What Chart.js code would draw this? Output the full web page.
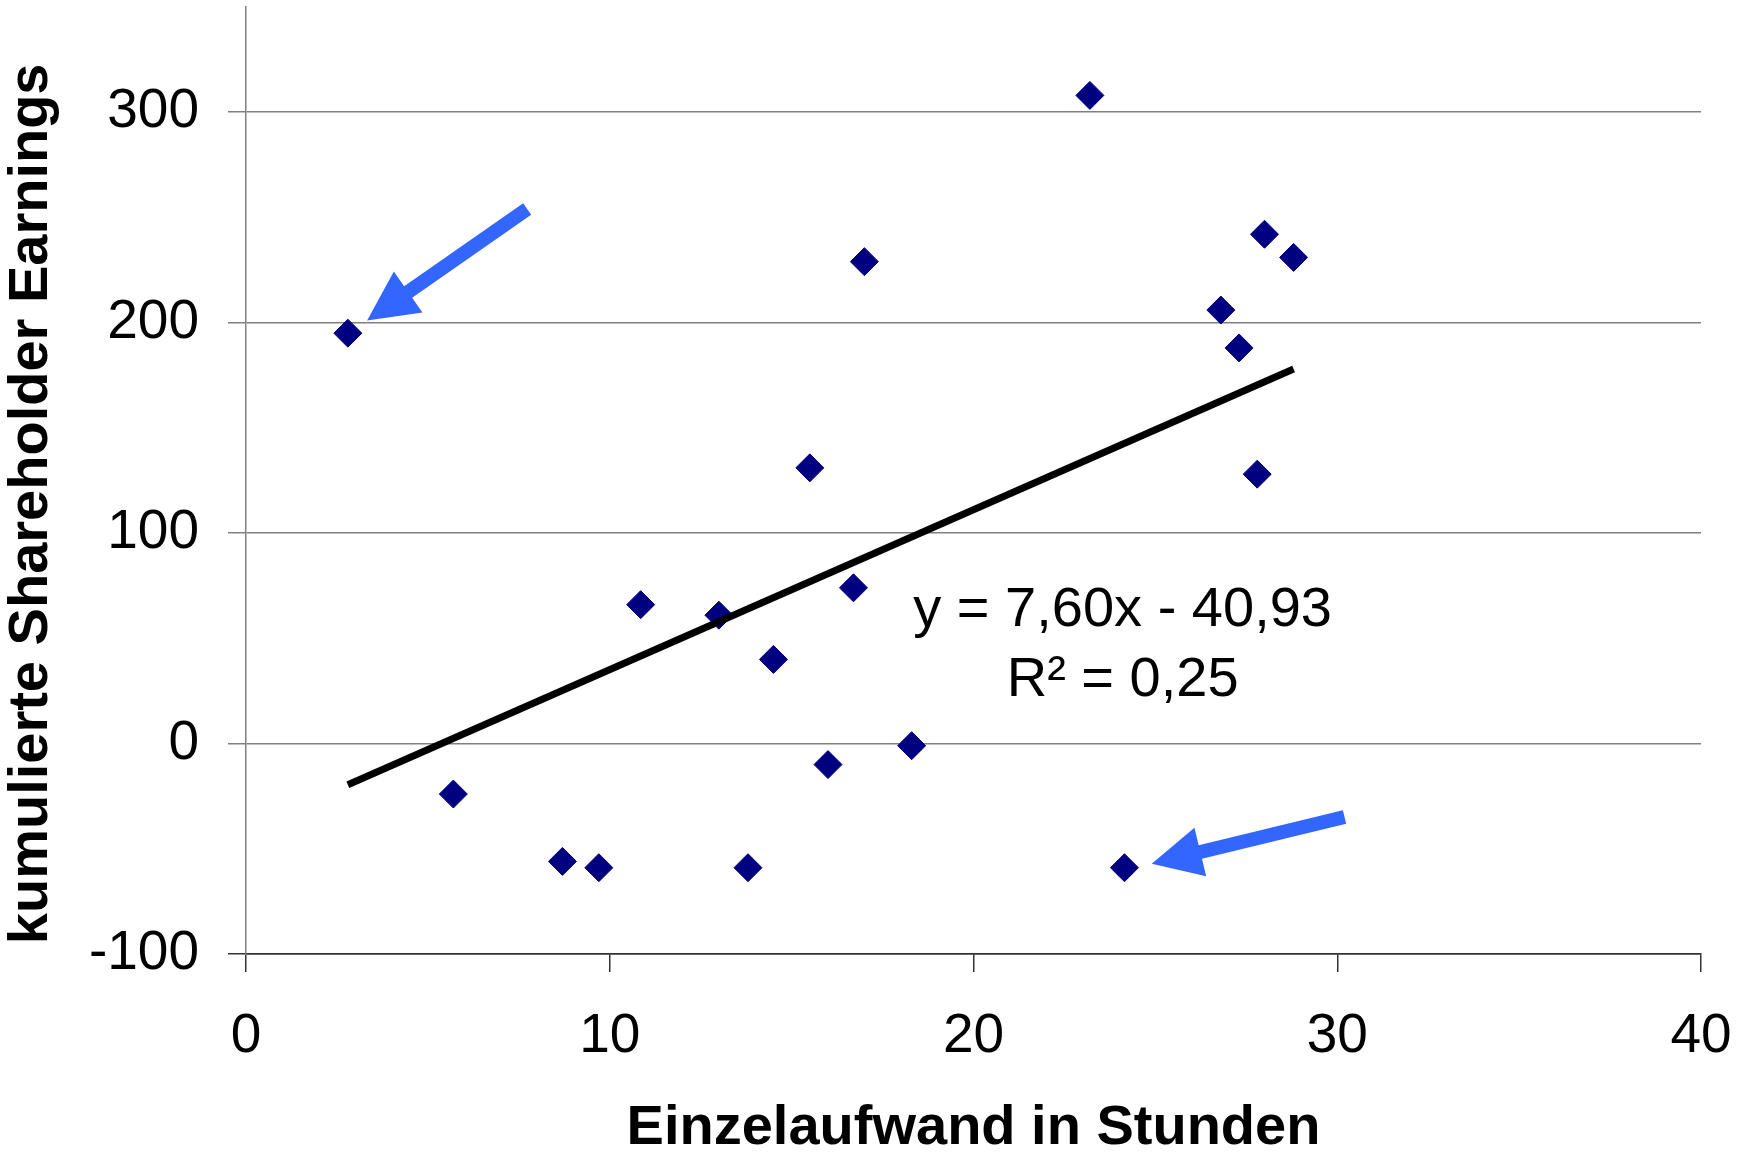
<!DOCTYPE html>
<html lang="de">
<head>
<meta charset="utf-8">
<title>Einzelaufwand vs. Shareholder Earnings</title>
<script src="https://cdn.jsdelivr.net/npm/chart.js@4.4.1/dist/chart.umd.min.js"></script>
<style>
  html, body { margin: 0; padding: 0; background: #fff; }
  #wrap { width: 1748px; height: 1154px; position: relative; }
</style>
</head>
<body>
<div id="wrap"><canvas id="scatterChart"></canvas></div>
<script>
// --- Daten ---
const hoursX    = [2.8, 5.7, 8.7, 9.7, 10.85, 13.0, 13.8, 14.5, 15.5, 16.0, 16.7, 17.0, 18.3, 23.2, 24.15, 26.8, 27.3, 27.8, 28.0, 28.8];
const earningsY = [195, -24, -56, -59, 66, 61, -59, 40, 131, -10, 74, 229, -1, 308, -59, 206, 188, 128, 242, 231];

const trendX = [2.8, 28.8];
const trendY = [-19.6, 178.0];

const xTicks = [0, 10, 20, 30, 40];
const yTicks = [-100, 0, 100, 200, 300];

const equationLines = ['y = 7,60x - 40,93', 'R² = 0,25'];
const equationPos = { x: 24.1, y: [63, 30] };

// Pfeile: [Ende x, Ende y, Spitze x, Spitze y] in Datenkoordinaten
const arrows = [
  [7.73, 254, 3.33, 201],
  [30.2, -34.9, 24.9, -57.1]
];

const FONT = '"Liberation Sans", Arial, Helvetica, sans-serif';
const ARROW_COLOR = '#3366ff';

document.addEventListener('DOMContentLoaded', () => {
  const canvas = document.getElementById('scatterChart');

  const points = hoursX.map((x, i) => ({ x, y: earningsY[i] }));
  const trend = trendX.map((x, i) => ({ x, y: trendY[i] }));

  // --- Pfeile und Gleichung ---
  const annotations = {
    id: 'annotations',
    afterDatasetsDraw(chart) {
      const { ctx, scales: { x, y } } = chart;

      arrows.forEach(a => {
        const x0 = x.getPixelForValue(a[0]), y0 = y.getPixelForValue(a[1]);
        const x1 = x.getPixelForValue(a[2]), y1 = y.getPixelForValue(a[3]);
        const ang = Math.atan2(y1 - y0, x1 - x0);
        const len = Math.hypot(x1 - x0, y1 - y0);
        const shaft = 7, headLen = 50, headW = 25;
        ctx.save();
        ctx.translate(x0, y0);
        ctx.rotate(ang);
        ctx.beginPath();
        ctx.moveTo(0, -shaft);
        ctx.lineTo(len - headLen, -shaft);
        ctx.lineTo(len - headLen, -headW);
        ctx.lineTo(len, 0);
        ctx.lineTo(len - headLen, headW);
        ctx.lineTo(len - headLen, shaft);
        ctx.lineTo(0, shaft);
        ctx.closePath();
        ctx.fillStyle = ARROW_COLOR;
        ctx.fill();
        ctx.restore();
      });

      ctx.save();
      ctx.fillStyle = '#000';
      ctx.font = `56px ${FONT}`;
      ctx.textAlign = 'center';
      ctx.textBaseline = 'middle';
      const cx = x.getPixelForValue(equationPos.x);
      equationLines.forEach((t, i) => {
        ctx.fillText(t, cx, y.getPixelForValue(equationPos.y[i]));
      });
      ctx.restore();
    }
  };

  new Chart(canvas, {
    type: 'scatter',
    data: {
      datasets: [
        {
          label: 'Trend',
          type: 'line',
          data: trend,
          borderColor: '#000',
          borderWidth: 7,
          pointRadius: 0,
          fill: false,
          order: 0
        },
        {
          label: 'Unternehmen',
          data: points,
          pointStyle: 'rectRot',
          pointRadius: 14,
          pointHoverRadius: 14,
          backgroundColor: '#000080',
          borderColor: '#000080',
          borderWidth: 1,
          order: 1
        }
      ]
    },
    options: {
      responsive: true,
      maintainAspectRatio: false,
      animation: false,
      // autoPadding würde oben Platz für die Punktgröße reservieren
      layout: { autoPadding: false, padding: { top: 7, right: 47, bottom: 0, left: 0 } },
      plugins: { legend: { display: false }, tooltip: { enabled: false } },
      scales: {
        x: {
          type: 'linear',
          min: 0, max: 40,
          afterFit: s => { s.height = 200; s.paddingLeft = 0; s.paddingRight = 0; },
          afterBuildTicks: s => { s.ticks = xTicks.map(v => ({ value: v })); },
          grid: { drawOnChartArea: false, drawTicks: true, tickLength: 18, color: '#333', lineWidth: 1.5 },
          border: { color: '#333', width: 1.5 },
          ticks: { color: '#000', padding: 32, font: { family: FONT, size: 55 }, callback: v => String(v) },
          title: {
            display: true,
            text: 'Einzelaufwand in Stunden',
            color: '#000',
            padding: { top: 0, bottom: 0 },
            font: { family: FONT, size: 56, weight: 'bold', lineHeight: 0.9 }
          }
        },
        y: {
          type: 'linear',
          min: -100, max: 350,
          afterFit: s => { s.width = 246; s.paddingTop = 0; s.paddingBottom = 0; },
          afterBuildTicks: s => { s.ticks = yTicks.map(v => ({ value: v })); },
          grid: {
            drawTicks: true, tickLength: 18, lineWidth: 1.5,
            color: c => (c.tick && c.tick.value === -100) ? '#333' : '#808080'
          },
          border: { color: '#808080', width: 1.5 },
          ticks: { color: '#000', padding: 29, font: { family: FONT, size: 55 }, callback: v => String(v) },
          title: {
            display: true,
            text: 'kumulierte Shareholder Earnings   ',
            color: '#000',
            padding: { top: 6, bottom: 0 },
            font: { family: FONT, size: 56, weight: 'bold', lineHeight: 0.9 }
          }
        }
      }
    },
    plugins: [annotations]
  });
});
</script>
</body>
</html>
